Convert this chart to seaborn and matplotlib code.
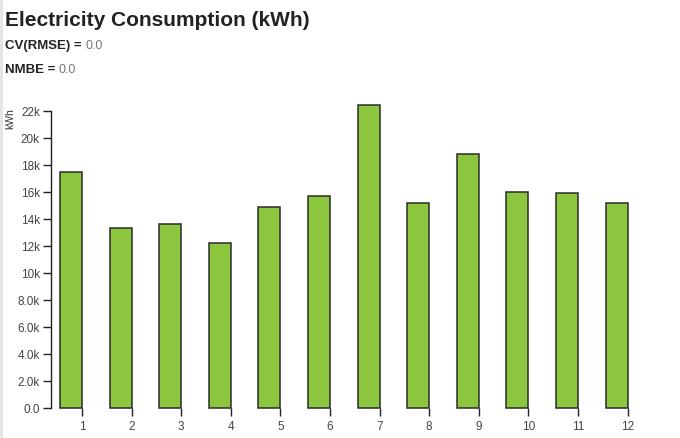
import matplotlib
matplotlib.use("Agg")
import matplotlib.pyplot as plt
import seaborn as sns
import pandas as pd
from matplotlib.lines import Line2D

# ── Data ──────────────────────────────────────────────────────────────────────
months = ["1", "2", "3", "4", "5", "6", "7", "8", "9", "10", "11", "12"]
consumption = [17460, 13330, 13630, 12170, 14860, 15730,
               22470, 15190, 18830, 16000, 15950, 15210]
y_ticks = [0, 2000, 4000, 6000, 8000, 10000, 12000, 14000, 16000, 18000, 20000, 22000]
y_labels = ["0.0", "2.0k", "4.0k", "6.0k", "8.0k", "10k", "12k",
            "14k", "16k", "18k", "20k", "22k"]

title = "Electricity Consumption (kWh)"
cv_rmse = "0.0"
nmbe = "0.0"

df = pd.DataFrame({"month": months, "kwh": consumption})

# ── Figure ────────────────────────────────────────────────────────────────────
sns.set_style("white")
plt.rcParams["font.family"] = ["Liberation Sans", "DejaVu Sans"]

W, H = 680, 439
fig = plt.figure(figsize=(W / 100, H / 100), dpi=100)

# axes in pixel coords: left 51, right 660, top 112, bottom 408.5
left, right, top, bottom = 51, 660, 112, 408.5
ax = fig.add_axes([left / W, 1 - bottom / H, (right - left) / W, (bottom - top) / H])

bar_w = 0.444
sns.barplot(data=df, x="month", y="kwh", ax=ax, color="#8cc63e",
            saturation=1, width=bar_w, edgecolor="#2b2b2b", linewidth=1.1)
for p in ax.patches:
    p.set_clip_on(False)

# ticks sit at the right edge of each bar
px_per_unit = 49.6
ax.set_xticks([i + bar_w / 2 for i in range(len(months))])
ax.set_xticklabels(months)
tick1_px = 82
x0 = (0 + bar_w / 2) - (tick1_px - left) / px_per_unit
ax.set_xlim(x0, x0 + (right - left) / px_per_unit)

ax.set_ylim(0, 22000)
ax.set_yticks(y_ticks)
ax.set_yticklabels(y_labels)

for s in ["top", "right", "bottom"]:
    ax.spines[s].set_visible(False)
ax.spines["left"].set_color("#222222")
ax.spines["left"].set_linewidth(1.0)

ax.tick_params(axis="y", left=True, length=6, width=1, color="#222222", pad=2,
               labelsize=8.5, labelcolor="#444444")
ax.tick_params(axis="x", bottom=True, length=6, width=1, color="#222222", pad=3,
               labelsize=8.5, labelcolor="#444444")
ax.set_xlabel("")
ax.set_ylabel("")

# y-axis label
fig.text(10 / W, 1 - 119 / H, "kWh", rotation=90, ha="center", va="center",
         fontsize=7.5, color="#333333")

# ── Header text ───────────────────────────────────────────────────────────────
fig.text(5 / W, 1 - 20 / H, title, fontsize=15, fontweight="bold",
         color="#222222", ha="left", va="center")
t1 = fig.text(5 / W, 1 - 46 / H, "CV(RMSE) = ", fontsize=9.5, fontweight="bold",
              color="#222222", ha="left", va="center")
t2 = fig.text(5 / W, 1 - 70 / H, "NMBE = ", fontsize=9.5, fontweight="bold",
              color="#222222", ha="left", va="center")

fig.canvas.draw()
r = fig.canvas.get_renderer()
for t, val, yy in [(t1, cv_rmse, 46), (t2, nmbe, 70)]:
    bb = t.get_window_extent(renderer=r)
    fig.text(bb.x1 / W, 1 - yy / H, val, fontsize=9, color="#777777",
             ha="left", va="center")

# light page border at the left edge
fig.add_artist(Line2D([1 / W, 1 / W], [0, 1], transform=fig.transFigure,
                      color="#e3e3e3", linewidth=2))

fig.savefig("out.png", dpi=100)
